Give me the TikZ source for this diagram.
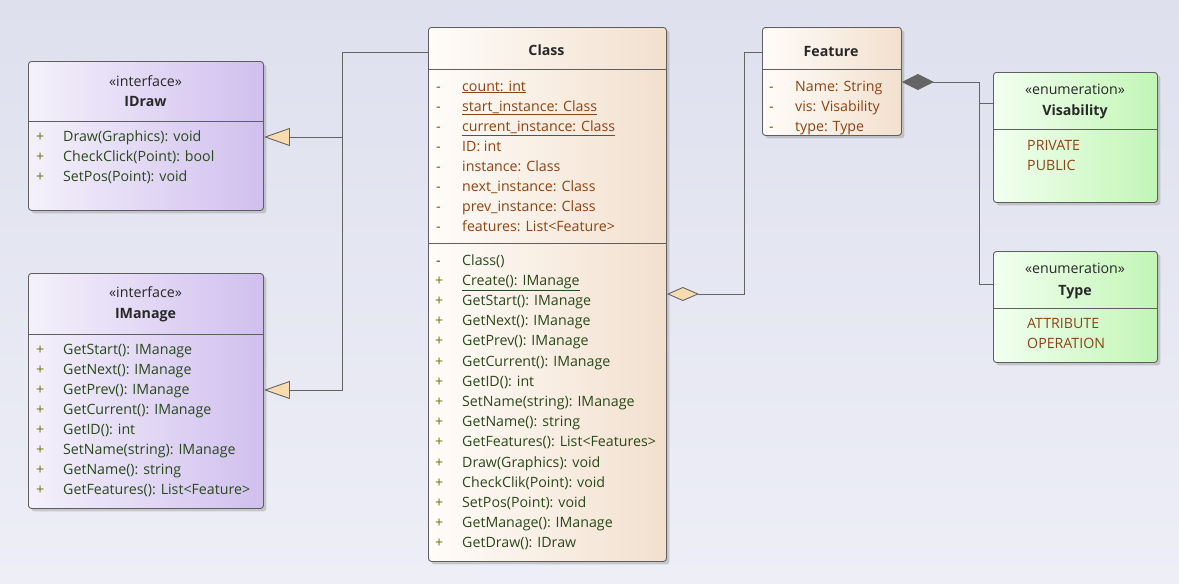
\documentclass[tikz,border=0pt]{standalone}
\usepackage{fontspec}
\setmainfont{Open Sans}
\usetikzlibrary{arrows.meta,shadows}
\definecolor{bgtop}{RGB}{222,224,238}
\definecolor{bgbot}{RGB}{237,238,246}
\definecolor{boxline}{RGB}{95,95,95}
\definecolor{linecol}{RGB}{100,100,100}
\definecolor{ifaceL}{RGB}{244,241,251}
\definecolor{ifaceR}{RGB}{208,191,238}
\definecolor{classL}{RGB}{255,252,249}
\definecolor{classR}{RGB}{242,224,206}
\definecolor{enumL}{RGB}{242,255,240}
\definecolor{enumR}{RGB}{194,245,182}
\definecolor{hdrcol}{RGB}{40,40,40}
\definecolor{attrcol}{RGB}{140,68,20}
\definecolor{opcol}{RGB}{42,72,28}
\definecolor{pluscol}{RGB}{110,115,20}
\definecolor{tricol}{RGB}{248,220,176}
\newcommand{\umlfont}{\fontsize{14.2}{17}\selectfont}
\tikzset{
  umlbox/.style={draw=boxline, line width=0.9pt, rounded corners=3pt, anchor=north west, inner sep=0pt,
    drop shadow={shadow xshift=3pt, shadow yshift=-3pt, fill=black!40, opacity=0.45}},
  ifacebox/.style={umlbox, left color=ifaceL, right color=ifaceR},
  classbox/.style={umlbox, left color=classL, right color=classR},
  enumbox/.style={umlbox, left color=enumL, right color=enumR},
  sepline/.style={draw=boxline, line width=0.9pt},
  hdrtext/.style={anchor=base, inner sep=0pt, text=hdrcol, font=\umlfont},
  nametext/.style={hdrtext, font=\umlfont\bfseries},
  attrtext/.style={anchor=base west, inner sep=0pt, text=attrcol, font=\umlfont},
  optext/.style={attrtext, text=opcol},
  plusmark/.style={attrtext, text=pluscol},
  genline/.style={draw=linecol, line width=0.9pt, -{Triangle[length=26pt, width=18pt, fill=tricol]}},
  aggline/.style={draw=linecol, line width=0.9pt, {Diamond[length=32pt, width=14pt, fill=tricol]}-},
  compline/.style={draw=linecol, line width=0.9pt, {Diamond[length=32pt, width=16pt, fill=linecol]}-}
}
\begin{document}
\begin{tikzpicture}[x=1pt, y=-1pt]
  \shade[top color=bgtop, bottom color=bgbot] (0,0) rectangle (1179,584);
  \useasboundingbox (0,0) rectangle (1179,584);

  % interfaces
  \node[ifacebox, minimum width=235pt, minimum height=149pt] (idraw) at (28,61) {};
  \draw[sepline] (idraw.west |- 0,121) -- (idraw.east |- 0,121);
  \node[hdrtext] (idrawst) at (145.5,86) {«interface»};
  \node[nametext] (idrawnm) at (145.5,106) {IDraw};
  \foreach \t [count=\i from 0] in {Draw(Graphics): void, CheckClick(Point): bool, SetPos(Point): void}{
    \node[plusmark] (idrawpl\i) at (36,{141+20*\i}) {+};
    \node[optext] (idrawop\i) at (63,{141+20*\i}) {\t};
  }

  \node[ifacebox, minimum width=235pt, minimum height=235pt] (iman) at (28,273) {};
  \draw[sepline] (iman.west |- 0,334) -- (iman.east |- 0,334);
  \node[hdrtext] (imanst) at (145.5,297) {«interface»};
  \node[nametext] (imannm) at (145.5,318) {IManage};
  \foreach \t [count=\i from 0] in {GetStart(): IManage, GetNext(): IManage, GetPrev(): IManage,
      GetCurrent(): IManage, GetID(): int, SetName(string): IManage, GetName(): string,
      GetFeatures(): List<Feature>}{
    \node[plusmark] (imanpl\i) at (36,{354+20.1*\i}) {+};
    \node[optext] (imanop\i) at (63,{354+20.1*\i}) {\t};
  }

  % class
  \node[classbox, minimum width=238pt, minimum height=534pt] (cls) at (428,27) {};
  \draw[sepline] (cls.west |- 0,69) -- (cls.east |- 0,69);
  \draw[sepline] (cls.west |- 0,243) -- (cls.east |- 0,243);
  \node[nametext] (clsnm) at (546.5,55) {Class};
  \foreach \t [count=\i from 0] in {\underline{count: int}, \underline{start\_instance: Class},
      \underline{current\_instance: Class}, ID: int, instance: Class, next\_instance: Class,
      prev\_instance: Class, features: List<Feature>}{
    \node[attrtext] (clsmk\i) at (436,{91+20.1*\i}) {-};
    \node[attrtext] (clsat\i) at (462,{91+20.1*\i}) {\t};
  }
  \node[optext] (clspl0) at (436,265) {-};
  \foreach \t [count=\i from 0] in {Class(), \underline{Create(): IManage}, GetStart(): IManage,
      GetNext(): IManage, GetPrev(): IManage, GetCurrent(): IManage, GetID(): int,
      SetName(string): IManage, GetName(): string, GetFeatures(): List<Features>,
      Draw(Graphics): void, CheckClik(Point): void, SetPos(Point): void,
      GetManage(): IManage, GetDraw(): IDraw}{
    \ifnum\i>0 \node[plusmark] (clspl\i) at (435,{265+20.2*\i}) {+};\fi
    \node[optext] (clsop\i) at (462,{265+20.2*\i}) {\t};
  }

  % feature
  \node[classbox, minimum width=139pt, minimum height=108pt] (feat) at (762,27) {};
  \draw[sepline] (feat.west |- 0,69) -- (feat.east |- 0,69);
  \node[nametext] (featnm) at (831,56) {Feature};
  \foreach \t [count=\i from 0] in {Name: String, vis: Visability, type: Type}{
    \node[attrtext] (featmk\i) at (769,{91+20*\i}) {-};
    \node[attrtext] (featat\i) at (795,{91+20*\i}) {\t};
  }

  % enumerations
  \node[enumbox, minimum width=164pt, minimum height=130pt] (vis) at (993,72) {};
  \draw[sepline] (vis.west |- 0,129) -- (vis.east |- 0,129);
  \node[hdrtext] (visst) at (1075,94) {«enumeration»};
  \node[nametext] (visnm) at (1075,115) {Visability};
  \node[attrtext] (vislt0) at (1027,150) {PRIVATE};
  \node[attrtext] (vislt1) at (1027,170) {PUBLIC};

  \node[enumbox, minimum width=164pt, minimum height=111pt] (typ) at (993,251) {};
  \draw[sepline] (typ.west |- 0,308) -- (typ.east |- 0,308);
  \node[hdrtext] (typst) at (1075,273) {«enumeration»};
  \node[nametext] (typnm) at (1075,295) {Type};
  \node[attrtext] (typlt0) at (1027,328) {ATTRIBUTE};
  \node[attrtext] (typlt1) at (1027,348) {OPERATION};

  % connectors
  \coordinate (genjct) at (342,137);
  \coordinate (compjct) at (979,103);
  \draw[genline] (cls.west |- 0,52) -| (342,390) -- (iman.east |- 0,390);
  \draw[genline] (genjct) -- (idraw.east |- genjct);
  \draw[aggline] (cls.east |- 0,294) -| (744,52) -- (feat.west |- 0,52);
  \draw[compline] (feat.east |- 0,82) -| (979,284) -- (typ.west |- 0,284);
  \draw[draw=linecol, line width=0.9pt] (compjct) -- (vis.west |- compjct);
\end{tikzpicture}
\end{document}
